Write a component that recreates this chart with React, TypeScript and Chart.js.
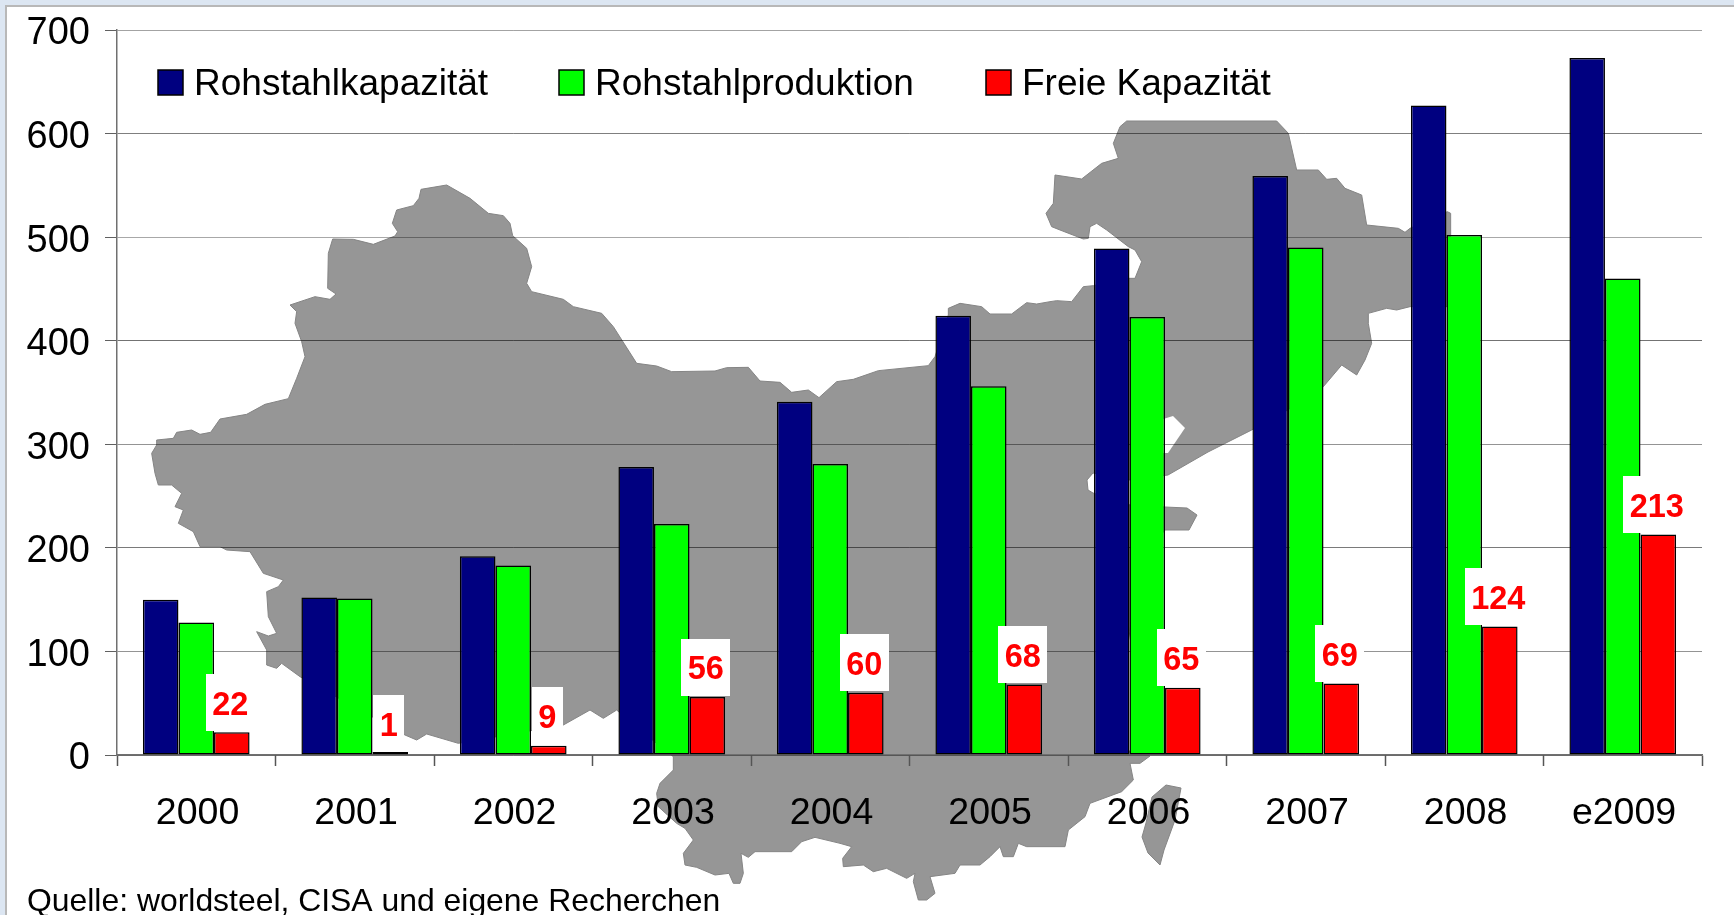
import React, { useEffect, useRef } from "react";
import { Chart, registerables } from "chart.js";

Chart.register(...registerables);

const categories = ["2000", "2001", "2002", "2003", "2004", "2005", "2006", "2007", "2008", "e2009"];
const kapazitaet = [150, 152, 192, 278, 341, 424, 489, 559, 627, 673];
const produktion = [128, 151, 183, 223, 281, 356, 423, 490, 502, 460];
const freieKapazitaet = [22, 1, 9, 56, 60, 68, 65, 69, 124, 213];
const yTicks = [0, 100, 200, 300, 400, 500, 600, 700];
const gridAlpha = [0.6, 0.42, 0.52, 0.42, 0.55, 0.34, 0.5, 0.36];
const sourceNote = "Quelle: worldsteel, CISA und eigene Recherchen";

const FONT = '"Liberation Sans", Arial, sans-serif';

// Decorative background map outline, traced in page pixels (crop origin, crop points / 3).
type Seg = [number, number, number, number, number[][]];
const mapOutline: Seg[] = [
  [140, 170, 3, 3, [[50,810],[100,805],[110,787],[155,780],[180,793],[212,787],[240,747],[320,733],[375,703],[445,686],[470,625],[495,560],[485,515],[465,460],[470,425],[450,405],[525,380],[570,388],[588,372],[563,355],[565,250],[578,207],[640,208],[700,223],[765,198],[773,185],[757,160],[770,120],[820,107],[837,85],[843,58],[920,45],[990,85],[1045,130],[1090,137],[1110,160],[1118,197],[1160,235],[1175,290],[1160,340],[1175,365],[1270,388],[1300,410],[1385,430],[1420,470],[1490,580]]],
  [620, 300, 3, 3, [[50,190],[110,198],[155,215],[285,213],[320,203],[385,202],[420,243],[480,247],[515,277],[565,270],[597,293],[650,245],[700,238],[775,212],[925,197],[945,170],[985,45],[985,25],[1020,10],[1085,20],[1110,42],[1175,42],[1220,8],[1250,12],[1290,5]]],
  [1040, 110, 3, 3, [[50,572],[95,575],[130,530],[160,527],[267,505],[285,505],[305,455],[285,420],[265,410],[200,360],[170,340],[150,350],[145,385],[130,387],[60,360],[35,350],[18,310],[40,280],[45,195],[125,207],[185,160],[235,145],[220,100],[240,50],[260,33],[710,33],[745,70],[770,180],[835,180],[860,208],[890,205],[915,235],[965,255],[980,345],[1075,355],[1095,367],[1110,355],[1222,305],[1232,310],[1232,590],[1110,590],[1070,600],[1040,595],[985,610],[985,640],[995,700],[975,750],[950,795],[905,765],[850,830],[743,900],[635,960]]],
  [0, 0, 1, 1, [[1208,452],[1168,475],[1130,480],[1093,473],[1087,480],[1088,490],[1093,493],[1130,505],[1165,507],[1187,508],[1197,515],[1189,530],[1165,530],[1140,560],[1120,700],[1125,750]]],
  [660, 750, 3, 3, [[1470,18],[1440,40],[1410,40],[1420,90],[1385,125],[1290,160],[1275,200],[1225,240],[1215,290],[1100,290],[1075,280],[1060,320],[1030,320],[1020,290],[990,320],[960,345],[900,345],[885,370],[810,380],[825,430],[800,450],[775,450],[760,395],[765,370],[740,385],[680,355],[640,365],[610,345],[550,350],[548,325],[575,290],[540,280],[465,262],[425,275],[395,305],[285,305],[265,322],[243,310],[250,370],[240,400],[220,400],[207,370],[165,375],[110,352],[75,345],[70,310],[100,270],[75,235],[50,220],[-5,170],[-10,130],[0,100],[40,60],[40,20]]],
  [0, 0, 1, 1, [[640,730]]],
  [140, 430, 3, 3, [[1430,840],[1390,865],[1350,840],[1270,885],[955,940],[860,912],[830,930],[795,915],[480,740],[425,700],[410,715],[380,705],[380,660],[350,605],[385,618],[410,610],[385,560],[380,485],[415,470],[430,450],[370,430],[330,365],[260,360],[240,350],[180,350],[160,305],[115,280],[130,240],[105,230],[125,190],[95,165],[55,165],[45,130],[35,70],[50,45]]],
];
const taiwanOutline = [[1142,837],[1146,823],[1152,797],[1166,785],[1181,788],[1175,820],[1164,850],[1160,865],[1148,853]];
const bayOutline = [[1160,420],[1173,416],[1185,428],[1168,453],[1160,453]];

function tracePoly(ctx: CanvasRenderingContext2D, pts: number[][]) {
  ctx.beginPath();
  pts.forEach(([x, y], i) => (i ? ctx.lineTo(x, y) : ctx.moveTo(x, y)));
  ctx.closePath();
}

const backdropPlugin = {
  id: "backdrop",
  afterLayout(chart: any) {
    // nudge the axis labels to where the reference's renderer sets them
    chart.scales.y.getLabelItems().forEach((item: any) => { item.options.translation[1] += 4; });
    chart.scales.x.getLabelItems().forEach((item: any) => { item.options.translation[0] += 1.3; });
  },
  beforeDraw(chart: any) {
    const ctx: CanvasRenderingContext2D = chart.ctx;
    ctx.save();
    ctx.fillStyle = "#dce6f2";
    ctx.fillRect(0, 0, 1734, 915);
    ctx.fillStyle = "#b8b8b8";
    ctx.fillRect(5, 5, 1729, 910);
    ctx.fillStyle = "#ffffff";
    ctx.fillRect(7, 7, 1727, 908);
    const main: number[][] = [];
    mapOutline.forEach(([ox, oy, sx, sy, pts]) =>
      pts.forEach(([x, y]) => main.push([ox + x / sx, oy + y / sy]))
    );
    ctx.fillStyle = "#969696";
    ctx.strokeStyle = "#858585";
    ctx.lineWidth = 1;
    tracePoly(ctx, main);
    ctx.fill();
    ctx.stroke();
    tracePoly(ctx, taiwanOutline);
    ctx.fill();
    ctx.stroke();
    ctx.fillStyle = "#ffffff";
    tracePoly(ctx, bayOutline);
    ctx.fill();
    ctx.restore();
  },
};

const overlayPlugin = {
  id: "overlay",
  afterDatasetsDraw(chart: any) {
    const ctx: CanvasRenderingContext2D = chart.ctx;
    ctx.save();
    // value labels of the last series
    const meta = chart.getDatasetMeta(2);
    ctx.font = `bold 32.5px ${FONT}`;
    ctx.textAlign = "center";
    ctx.textBaseline = "middle";
    meta.data.forEach((el: any, i: number) => {
      const text = String(chart.data.datasets[2].data[i]);
      const w = ctx.measureText(text).width + 13;
      const cx = el.x - 1.5;
      const bottom = chart.scales.y.getPixelForValue(freieKapazitaet[i]) - 1.5;
      ctx.fillStyle = "#ffffff";
      ctx.fillRect(Math.round(cx - w / 2), Math.round(bottom - 57), Math.round(w), 57);
      ctx.fillStyle = "#ff0000";
      ctx.fillText(text, cx, bottom - 25);
    });
    // legend row
    const legendX = [158, 559, 986];
    ctx.font = `37px ${FONT}`;
    ctx.textAlign = "left";
    ctx.textBaseline = "alphabetic";
    chart.data.datasets.forEach((ds: any, i: number) => {
      ctx.fillStyle = ds.backgroundColor;
      ctx.strokeStyle = "#000000";
      ctx.lineWidth = 1.5;
      ctx.fillRect(legendX[i], 70, 25, 25);
      ctx.strokeRect(legendX[i], 70, 25, 25);
      ctx.fillStyle = "#000000";
      ctx.fillText(ds.label, legendX[i] + 36, 95);
    });
    // source note
    ctx.font = `31.9px ${FONT}`;
    ctx.fillText(sourceNote, 27, 911);
    ctx.restore();
  },
};

export default function App() {
  const ref = useRef<HTMLCanvasElement>(null);
  useEffect(() => {
    const barStyle = {
      borderColor: "#000000",
      borderWidth: 1.5,
      borderSkipped: false,
      categoryPercentage: 0.673,
      barPercentage: 1,
    };
    const chart = new Chart(ref.current!, {
      type: "bar",
      data: {
        labels: categories,
        datasets: [
          { label: "Rohstahlkapazität", data: kapazitaet, backgroundColor: "#000080", ...barStyle },
          { label: "Rohstahlproduktion", data: produktion, backgroundColor: "#00ff00", ...barStyle },
          { label: "Freie Kapazität", data: freieKapazitaet, backgroundColor: "#ff0000", minBarLength: 3, ...barStyle },
        ],
      },
      options: {
        animation: false,
        responsive: false,
        layout: { padding: { top: 30, right: 32, left: 0, bottom: 0 } },
        plugins: { legend: { display: false }, title: { display: false }, tooltip: { enabled: false } },
        scales: {
          x: {
            grid: { drawOnChartArea: false, offset: true, tickLength: 11, tickColor: "#555555", tickWidth: 1.5 },
            border: { color: "#707070", width: 1.5 },
            ticks: { color: "#000000", font: { family: FONT, size: 37.5 }, padding: 25, maxRotation: 0, autoSkip: false },
            afterFit: (s: any) => { s.height = 160; s.paddingLeft = 0; s.paddingRight = 0; },
          },
          y: {
            min: 0,
            max: 700,
            afterBuildTicks: (s: any) => { s.ticks = yTicks.map((value) => ({ value })); },
            grid: {
              tickLength: 12,
              color: (c: any) => `rgba(0,0,0,${gridAlpha[c.index] ?? 0.45})`,
              tickColor: "#606060",
              lineWidth: 1,
            },
            border: { color: "#707070", width: 1.5 },
            ticks: { color: "#000000", font: { family: FONT, size: 38 }, padding: 15 },
            afterFit: (s: any) => { s.width = 117; s.paddingTop = 0; s.paddingBottom = 0; },
          },
        },
      },
      plugins: [backdropPlugin, overlayPlugin],
    } as any);
    return () => chart.destroy();
  }, []);
  return (
    <div style={{ position: "fixed", left: 0, top: 0, width: 1734, height: 915, overflow: "hidden" }}>
      <canvas ref={ref} width={1734} height={915} style={{ display: "block" }} />
    </div>
  );
}
